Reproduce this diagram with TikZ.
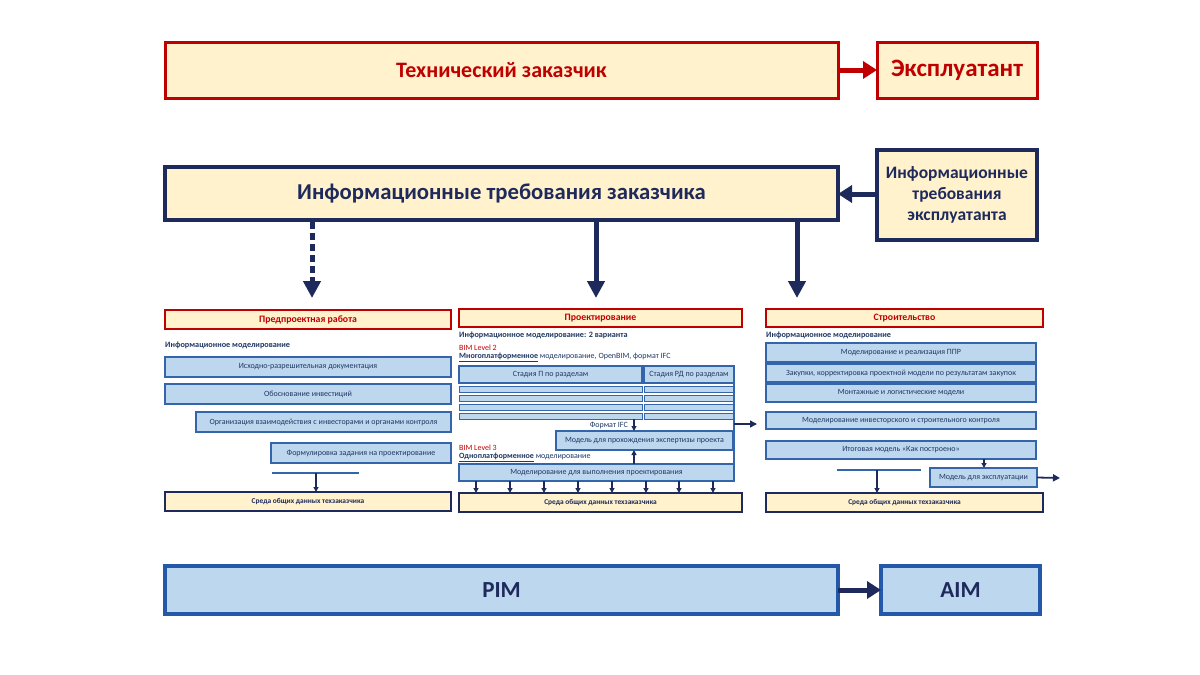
\documentclass[tikz,border=0pt]{standalone}
\usepackage{fontspec}
\setmainfont{Carlito}
\usetikzlibrary{arrows.meta}
\definecolor{cream}{HTML}{FFF2CC}
\definecolor{dred}{HTML}{C00000}
\definecolor{navy}{HTML}{1F2A5C}
\definecolor{lblue}{HTML}{BDD7EE}
\definecolor{mblue}{HTML}{2458A8}
\definecolor{sblue}{HTML}{3464AA}
\definecolor{tnavy}{HTML}{1F3864}
\newcommand{\fs}[2]{\fontsize{#1}{#2}\selectfont}
\newcommand{\bx}[7][]{\node[#1,minimum width={#5pt-#3pt},minimum height={#6pt-#4pt},inner sep=0pt,outer sep=0pt] (#2) at ({(#3+#5)/2},{(#4+#6)/2}) {#7};}
\tikzset{
  redbig/.style={draw=dred,line width=3pt,fill=cream,text=dred,font=\bfseries},
  navybig/.style={draw=navy,line width=3.5pt,fill=cream,text=navy,font=\bfseries},
  bluebig/.style={draw=mblue,line width=3.5pt,fill=lblue,text=navy,font=\bfseries\fs{23}{27}},
  hdr/.style={draw=dred,line width=1.2pt,fill=cream,text=dred,font=\bfseries\fs{9.8}{11}},
  sbox/.style={draw=sblue,line width=1.1pt,fill=lblue,text=tnavy,font=\fs{8}{9.5}},
  strip/.style={draw=sblue,line width=1pt,fill=lblue},
  cde/.style={draw=navy,line width=1.3pt,fill=cream,text=navy,font=\bfseries\fs{7.4}{8.5}},
  lbl/.style={anchor=west,inner sep=0pt,text=tnavy,font=\fs{8}{9.5}},
  bigarr/.style={line width=5pt,-{Triangle[length=14pt,width=17pt]}},
  downarr/.style={draw=navy,line width=5pt,-{Triangle[length=17pt,width=17pt]}},
  smarr/.style={draw=navy,line width=1.2pt,-{Triangle[length=5pt,width=5pt]}},
  medarr/.style={draw=navy,line width=1.8pt,-{Triangle[length=7pt,width=7pt]}},
  thinline/.style={draw=sblue,line width=1.2pt}
}
\begin{document}
\begin{tikzpicture}[x=1pt,y=-1pt]
\useasboundingbox (0,0) rectangle (1200,675);
% top row
\bx[redbig,font=\bfseries\fs{22}{26}]{tz}{165}{42}{838}{98}{Технический заказчик}
\bx[redbig,font=\bfseries\fs{25}{28}]{ex}{877}{42}{1037}{98}{Эксплуатант}
\draw[dred,bigarr] (tz.east) -- (ex.west);
% second row
\bx[navybig,font=\bfseries\fs{22.7}{26}]{itz}{165}{167}{838}{220}{Информационные требования заказчика}
\bx[navybig,font=\bfseries\fs{17.5}{21},align=center]{ite}{877}{150}{1037}{240}{Информационные\\требования\\эксплуатанта}
\draw[navy,bigarr] (ite.west |- 0,194) -- (itz.east |- 0,194);
% down arrows
\coordinate (d1a) at (312,222); \coordinate (d1b) at (312,298);
\coordinate (d2a) at (596,222); \coordinate (d2b) at (596,298);
\coordinate (d3a) at (797,222); \coordinate (d3b) at (797,298);
\draw[downarr,dash pattern=on 7pt off 4pt] (d1a) -- (d1b);
\draw[downarr] (d2a) -- (d2b);
\draw[downarr] (d3a) -- (d3b);
% bottom row
\bx[bluebig]{pim}{165}{566}{838}{614}{PIM}
\bx[bluebig]{aim}{881}{566}{1040}{614}{AIM}
\draw[navy,bigarr] (pim.east) -- (aim.west);

% ---------- column 1
\bx[hdr]{h1}{165}{310}{451}{329}{Предпроектная работа}
\node[lbl,font=\bfseries\fs{8.2}{9.5}] (im1) at (165,345) {Информационное моделирование};
\bx[sbox]{a1}{165}{357}{451}{377}{Исходно-разрешительная документация}
\bx[sbox]{a2}{165}{384}{451}{404}{Обоснование инвестиций}
\bx[sbox]{a3}{196}{412}{451}{432}{Организация взаимодействия с инвесторами и органами контроля}
\bx[sbox]{a4}{271}{443}{451}{463}{Формулировка задания на проектирование}
\bx[cde]{c1}{165}{492}{451}{511}{Среда общих данных техзаказчика}
\coordinate (l1a) at (272,473); \coordinate (l1b) at (359,473); \coordinate (l1m) at (316,473);
\draw[thinline] (l1a) -- (l1b);
\draw[smarr] (l1m) -- (l1m |- c1.north);

% ---------- column 2
\bx[hdr]{h2}{459}{309}{742}{327}{Проектирование}
\node[lbl,font=\bfseries\fs{8.2}{9.5}] (im2) at (459,335) {Информационное моделирование: 2 варианта};
\node[lbl,text=dred] (bl2) at (459,348) {BIM Level 2};
\node[lbl] (mp) at (459,357.5) {\textbf{\underline{Многоплатформенное}} моделирование, OpenBIM, формат IFC};
\bx[sbox]{sp}{459}{366}{642}{383}{Стадия П по разделам}
\bx[sbox]{srd}{644}{366}{734}{383}{Стадия РД по разделам}
\foreach \i/\ya/\yb in {1/386/392,2/395/401,3/404/410,4/413/419}{
  \bx[strip]{stl\i}{459}{\ya}{642}{\yb}{}
  \bx[strip]{str\i}{644}{\ya}{734}{\yb}{}
}
\bx[sbox]{ekz}{556}{431}{733}{450}{Модель для прохождения экспертизы проекта}
\node[lbl,anchor=east] (fifc) at (628,425.5) {Формат IFC};
\node[lbl,text=dred] (bl3) at (459,447.5) {BIM Level 3};
\node[lbl] (op) at (459,457.5) {\textbf{\underline{Одноплатформенное}} моделирование};
\bx[sbox]{mvp}{459}{464}{734}{481}{Моделирование для выполнения проектирования}
\bx[cde]{c2}{459}{493}{742}{512}{Среда общих данных техзаказчика}
\coordinate (ifa) at (634,419);
\draw[smarr] (ifa) -- (ifa |- ekz.north);
\coordinate (ifb) at (634,464);
\draw[smarr] (ifb) -- (ifb |- ekz.south);
\draw[thinline] (srd.north east) -- (mvp.north east);
\coordinate (ra) at (734,424); \coordinate (rb) at (757,424);
\draw[medarr,line width=1.4pt] (ra) -- (rb);
\foreach \x in {476,510,544,578,612,646,679,713}{
  \coordinate (q\x) at (\x,481);
  \draw[smarr] (q\x) -- (q\x |- c2.north);
}

% ---------- column 3
\bx[hdr]{h3}{766}{309}{1043}{327}{Строительство}
\node[lbl,font=\bfseries\fs{8.2}{9.5}] (im3) at (766,335) {Информационное моделирование};
\bx[sbox]{b1}{766}{343}{1036}{362}{Моделирование и реализация ППР}
\bx[sbox]{b2}{766}{364}{1036}{382}{Закупки, корректировка проектной модели по результатам закупок}
\bx[sbox]{b3}{766}{384}{1036}{402}{Монтажные и логистические модели}
\bx[sbox]{b4}{766}{412}{1036}{429}{Моделирование инвесторского и строительного контроля}
\bx[sbox]{b5}{766}{441}{1036}{459}{Итоговая модель «Как построено»}
\bx[sbox]{b6}{930}{468}{1037}{487}{Модель для эксплуатации}
\bx[cde]{c3}{766}{493}{1043}{512}{Среда общих данных техзаказчика}
\coordinate (l3a) at (837,470); \coordinate (l3b) at (921,470); \coordinate (l3m) at (877,470);
\draw[thinline] (l3a) -- (l3b);
\draw[smarr] (l3m) -- (l3m |- c3.north);
\coordinate (kp) at (984,459);
\draw[smarr] (kp) -- (kp |- b6.north);
\coordinate (me) at (1060,478);
\draw[medarr] (b6.east) -- (me);
\end{tikzpicture}
\end{document}
